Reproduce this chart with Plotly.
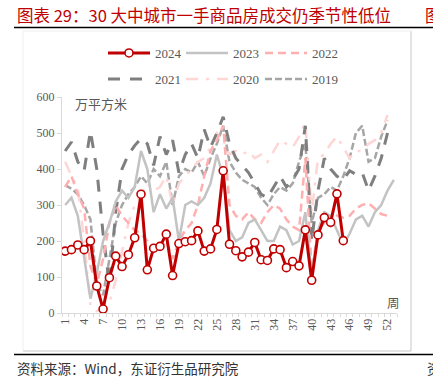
import plotly.graph_objects as go

# ---------------- data ----------------
weeks = list(range(1, 54))
tick_weeks = list(range(1, 53, 3))
tick_labels = [str(w) for w in tick_weeks]

s2024 = [172, 176, 189, 176, 200, 75, 11, 98, 158, 129, 162, 209, 330, 120, 180,
         185, 219, 104, 193, 198, 201, 228, 172, 178, 232, 395, 191, 173, 156, 169,
         196, 148, 146, 178, 176, 126, 143, 131, 231, 91, 217, 265, 252, 331, 201]

s2023 = [300, 320, 270, 150, 40, 110, 200, 250, 310, 340, 320, 350, 450, 400, 280,
         330, 290, 320, 200, 300, 310, 300, 320, 360, 440, 380, 230, 200, 210, 250,
         260, 230, 200, 200, 240, 230, 190, 200, 280, 100, 230, 280, 270, 230, 190,
         220, 260, 270, 240, 280, 300, 340, 370]

s2022 = [350, 380, 330, 290, 130, 80, 150, 250, 300, 270, 250, 230, 220, 200, 170,
         180, 200, 150, 200, 230, 250, 300, 380, 450, 480, 520, 300, 270, 260, 280,
         260, 250, 280, 300, 290, 260, 240, 230, 430, 120, 230, 250, 240, 270, 265,
         270, 290, 300, 305, 290, 275, 270]

s2021 = [450, 475, 420, 395, 505, 400, 220, 80, 280, 400, 440, 465, 485, 470, 410,
         490, 440, 480, 390, 440, 470, 430, 510, 460, 500, 545, 470, 430, 410, 390,
         360, 330, 320, 350, 380, 350, 370, 400, 520, 200, 340, 430, 400, 380, 370,
         395, 385, 390, 340, 380, 430, 500]

s2020 = [420, 380, 350, 200, 20, 5, 10, 30, 90, 170, 250, 300, 330, 360, 340,
         350, 380, 300, 360, 380, 400, 420, 430, 460, 500, 480, 440, 450, 440, 450,
         430, 440, 420, 450, 480, 470, 460, 490, 530, 280, 430, 440, 470, 490, 460,
         430, 450, 450, 470, 480, 500, 550]

s2019 = [355, 345, 330, 300, 260, 80, 50, 150, 250, 300, 330, 350, 380, 360, 400,
         380, 420, 300, 380, 400, 390, 420, 380, 430, 470, 520, 420, 390, 370, 360,
         350, 320, 300, 330, 350, 340, 360, 420, 470, 250, 320, 330, 350, 340, 380,
         430, 500, 520, 420, 430, 490, 535]

# ---------------- geometry helpers ----------------
W, H = 433, 382
L, R, T, B = 62, 397, 97, 313


def px(x):
    return (x - L) / (R - L)


def py(y):
    return (B - y) / (B - T)


fig = go.Figure()

# name, values, colour, width, dash, legend id, legend px position
series = [
    ("2019", s2019, "#A6A6A6", 2.5, "7px,3px", "legend6", (260, 79)),
    ("2020", s2020, "#FFD6D6", 2.5, "12px,8px,3px,8px", "legend5", (181, 79)),
    ("2021", s2021, "#7F7F7F", 3, "12px,10px", "legend4", (103, 79)),
    ("2022", s2022, "#FFAFAF", 2.5, "8px,5px", "legend3", (260, 53)),
    ("2023", s2023, "#C3C3C3", 2.5, "solid", "legend2", (181, 53)),
]
legend_pos = {}
for name, vals, color, width, dash, leg, pos in series:
    legend_pos[leg] = pos
    fig.add_trace(go.Scatter(
        x=weeks[:len(vals)], y=vals, mode="lines", name=name,
        line=dict(color=color, width=width, dash=dash),
        legend=leg, hoverinfo="skip"))

legend_pos["legend"] = (103, 53)
fig.add_trace(go.Scatter(
    x=weeks[:len(s2024)], y=s2024, mode="lines+markers", name="2024",
    line=dict(color="#C00000", width=3),
    marker=dict(symbol="circle", size=8, color="white",
                line=dict(color="#C00000", width=1.6)),
    legend="legend", hoverinfo="skip"))

leg_font = dict(family="Liberation Serif", size=13, color="#595959")
legends = {}
for leg, (lx, ly) in legend_pos.items():
    legends[leg] = dict(orientation="h", xanchor="left", yanchor="middle",
                        x=px(lx), y=py(ly), itemwidth=42, font=leg_font,
                        bgcolor="rgba(0,0,0,0)", borderwidth=0)

axis_font = dict(family="Liberation Serif", size=12, color="#595959")

fig.update_layout(
    width=W, height=H,
    margin=dict(l=L, r=W - R, t=T, b=H - B, pad=0, autoexpand=False),
    paper_bgcolor="white", plot_bgcolor="white",
    showlegend=True,
    xaxis=dict(
        range=[0.5, 53.5], showgrid=False, zeroline=False,
        showline=True, linecolor="#D9D9D9", linewidth=1,
        tickmode="array", tickvals=tick_weeks, ticktext=tick_labels,
        tickangle=-90, ticks="", tickfont=axis_font,
        minor=dict(tickmode="array",
                   tickvals=[w - 0.5 for w in weeks] + [53.5],
                   ticks="outside", ticklen=3, tickcolor="#D9D9D9",
                   tickwidth=1, showgrid=False),
        fixedrange=True,
    ),
    yaxis=dict(
        range=[0, 600], dtick=100, tick0=0, showgrid=False, zeroline=False,
        showline=True, linecolor="#D9D9D9", linewidth=1,
        ticks="outside", ticklen=4, tickcolor="#D9D9D9",
        tickfont=axis_font, fixedrange=True,
    ),
    **legends,
)

cn_font = "Noto Sans CJK SC"

annotations = [
    dict(text="图表 29：30 大中城市一手商品房成交仍季节性低位",
         x=px(15), y=py(15), xanchor="left", yanchor="middle",
         font=dict(family=cn_font, size=16.5, color="#C00000")),
    dict(text="图", x=px(423), y=py(15), xanchor="left", yanchor="middle",
         font=dict(family=cn_font, size=16.5, color="#C00000")),
    dict(text="万平方米", x=px(73), y=py(103), xanchor="left", yanchor="middle",
         font=dict(family=cn_font, size=13, color="#595959")),
    dict(text="周", x=px(393), y=py(302), xanchor="center", yanchor="middle",
         font=dict(family=cn_font, size=12.5, color="#595959")),
    dict(text="资料来源：Wind，东证衍生品研究院", x=px(15), y=py(368),
         xanchor="left", yanchor="middle",
         font=dict(family=cn_font, size=13.5, color="#333333")),
    dict(text="资", x=px(425), y=py(368), xanchor="left", yanchor="middle",
         font=dict(family=cn_font, size=13.5, color="#333333")),
]
for a in annotations:
    a.update(xref="paper", yref="paper", showarrow=False)
fig.update_layout(annotations=annotations)

shapes = [
    dict(type="line", x0=px(14), x1=px(433), y0=py(27.5), y1=py(27.5),
         line=dict(color="#000000", width=1.5)),
    dict(type="line", x0=px(14), x1=px(433), y0=py(354.5), y1=py(354.5),
         line=dict(color="#000000", width=1.5)),
    dict(type="line", x0=px(411), x1=px(411), y0=py(31), y1=py(351),
         line=dict(color="#C8C8C8", width=1)),
    dict(type="line", x0=px(23), x1=px(411), y0=py(351), y1=py(351),
         line=dict(color="#C8C8C8", width=1)),
    dict(type="line", x0=px(23), x1=px(23), y0=py(31), y1=py(351),
         line=dict(color="#EFEFEF", width=1)),
    dict(type="line", x0=px(23), x1=px(411), y0=py(31), y1=py(31),
         line=dict(color="#EFEFEF", width=1)),
]
for s in shapes:
    s.update(xref="paper", yref="paper", layer="below")
fig.update_layout(shapes=shapes)

fig.write_html(
    "out.html",
    config={"displayModeBar": False},
    post_script="document.body.style.margin='0';"
                "document.body.style.overflow='hidden';",
)
